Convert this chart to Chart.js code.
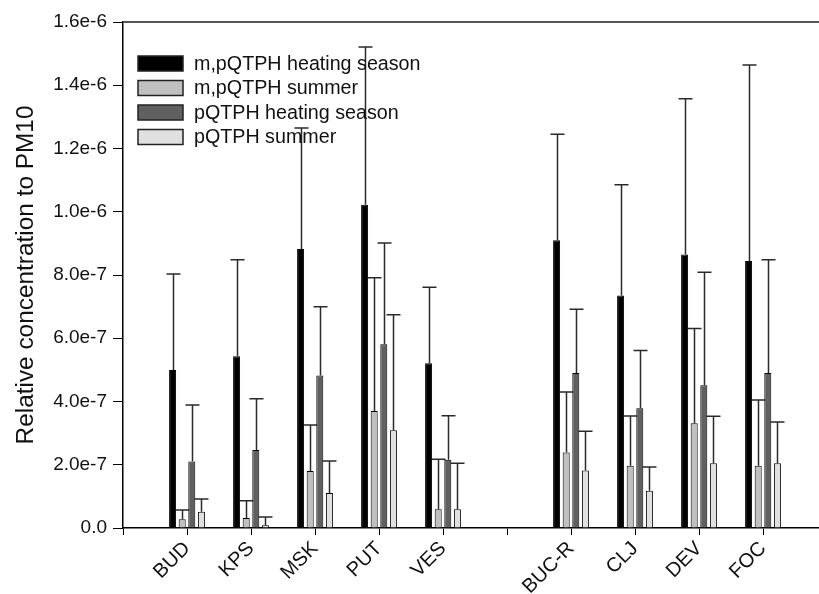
<!DOCTYPE html>
<html>
<head>
<meta charset="utf-8">
<script src="https://cdn.jsdelivr.net/npm/chart.js@4.4.1/dist/chart.umd.min.js"></script>
<style>
html,body{margin:0;padding:0;background:#fff;overflow:hidden;width:819px;height:594px}
#wrap{width:819px;height:594px;overflow:hidden;position:relative}
canvas{position:absolute;left:0;top:0}
</style>
</head>
<body>
<div id="wrap"><canvas id="c" width="860" height="594"></canvas></div>
<script>
// Categories (blank slots are the empty positions on the axis)
const labels = ['', 'BUD', 'KPS', 'MSK', 'PUT', 'VES', '', 'BUC-R', 'CLJ', 'DEV', 'FOC', ''];
const seriesNames = ['m,pQTPH heating season', 'm,pQTPH summer', 'pQTPH heating season', 'pQTPH summer'];
const seriesColors = ['#000000', '#c0c0c0', '#606060', '#e0e0e0'];

// Means
const mpHeat   = [null, 5.00e-7, 5.43e-7, 8.82e-7, 1.022e-6, 5.21e-7, null, 9.10e-7, 7.35e-7, 8.65e-7, 8.44e-7, null];
const mpSummer = [null, 2.8e-8, 3.2e-8, 1.80e-7, 3.70e-7, 5.9e-8, null, 2.39e-7, 1.97e-7, 3.31e-7, 1.97e-7, null];
const pHeat    = [null, 2.10e-7, 2.47e-7, 4.82e-7, 5.81e-7, 2.16e-7, null, 4.90e-7, 3.79e-7, 4.51e-7, 4.90e-7, null];
const pSummer  = [null, 5.1e-8, 8.5e-9, 1.11e-7, 3.09e-7, 5.9e-8, null, 1.82e-7, 1.18e-7, 2.05e-7, 2.05e-7, null];

// Upper ends of the error bars
const mpHeatHi   = [null, 8.03e-7, 8.48e-7, 1.265e-6, 1.521e-6, 7.61e-7, null, 1.245e-6, 1.085e-6, 1.357e-6, 1.464e-6, null];
const mpSummerHi = [null, 5.7e-8, 8.6e-8, 3.26e-7, 7.91e-7, 2.17e-7, null, 4.30e-7, 3.54e-7, 6.31e-7, 4.05e-7, null];
const pHeatHi    = [null, 3.89e-7, 4.09e-7, 7.00e-7, 9.01e-7, 3.55e-7, null, 6.92e-7, 5.61e-7, 8.09e-7, 8.48e-7, null];
const pSummerHi  = [null, 9.2e-8, 3.5e-8, 2.12e-7, 6.74e-7, 2.05e-7, null, 3.06e-7, 1.93e-7, 3.53e-7, 3.35e-7, null];

const yTickLabels = ['0.0', '2.0e-7', '4.0e-7', '6.0e-7', '8.0e-7', '1.0e-6', '1.2e-6', '1.4e-6', '1.6e-6'];
const yTitle = 'Relative concentration to PM10';

const means = [mpHeat, mpSummer, pHeat, pSummer];
const highs = [mpHeatHi, mpSummerHi, pHeatHi, pSummerHi];

const FONT = "'Liberation Sans', Arial, Helvetica, sans-serif";

const errorBars = {
  id: 'errorBars',
  beforeDatasetsDraw(chart) {
    const ctx = chart.ctx;
    const ys = chart.scales.y;
    ctx.save();
    ctx.strokeStyle = '#2a2a2a';
    ctx.lineWidth = 1.5;
    chart.data.datasets.forEach((ds, d) => {
      const meta = chart.getDatasetMeta(d);
      ds.errorHigh.forEach((hi, i) => {
        if (hi == null || ds.data[i] == null) return;
        const bar = meta.data[i];
        const yHi = ys.getPixelForValue(hi);
        const x = Math.round(bar.x) + 0.5;
        ctx.beginPath();
        ctx.moveTo(x, bar.y);
        ctx.lineTo(x, yHi);
        ctx.moveTo(x - 7, yHi);
        ctx.lineTo(x + 7, yHi);
        ctx.stroke();
      });
    });
    ctx.restore();
  }
};

const frameAndLegend = {
  id: 'frameAndLegend',
  afterDraw(chart) {
    const ctx = chart.ctx;
    const a = chart.chartArea;
    ctx.save();
    ctx.strokeStyle = '#555555';
    ctx.lineWidth = 2;
    ctx.beginPath();
    ctx.moveTo(a.left, a.top);
    ctx.lineTo(a.right, a.top);
    ctx.lineTo(a.right, a.bottom);
    ctx.stroke();
    // legend
    const bx = a.left + 15, by0 = a.top + 34, rowH = 24.5, bw = 45, bh = 15;
    ctx.font = '19.7px ' + FONT;
    ctx.textBaseline = 'middle';
    ctx.textAlign = 'left';
    chart.data.datasets.forEach((ds, d) => {
      const y = by0 + d * rowH;
      ctx.fillStyle = ds.backgroundColor;
      ctx.fillRect(bx, y, bw, bh);
      ctx.strokeStyle = '#222';
      ctx.lineWidth = 1.5;
      ctx.strokeRect(bx, y, bw, bh);
      ctx.fillStyle = '#111';
      ctx.fillText(ds.label, bx + bw + 11, y + bh / 2 + 1);
    });
    ctx.restore();
  }
};

new Chart(document.getElementById('c'), {
  type: 'bar',
  data: {
    labels: labels,
    datasets: means.map((m, d) => ({
      label: seriesNames[d],
      data: m,
      errorHigh: highs[d],
      backgroundColor: seriesColors[d],
      borderColor: '#000',
      borderWidth: 1,
      categoryPercentage: 0.6,
      barPercentage: 0.73
    }))
  },
  options: {
    responsive: false,
    animation: false,
    devicePixelRatio: 1,
    layout: { padding: { top: 22, right: 33, left: 0, bottom: 0 } },
    plugins: { legend: { display: false }, tooltip: { enabled: false } },
    scales: {
      x: {
        type: 'category',
        offset: false,
        afterFit: s => { s.height = 66; },
        border: { display: true, color: '#000', width: 1.5 },
        grid: { offset: false, drawOnChartArea: false, drawTicks: true, tickLength: 7, color: '#000', tickColor: '#000', lineWidth: 1 },
        ticks: {
          autoSkip: false, minRotation: 45, maxRotation: 45, padding: 2,
          color: '#111', font: { family: FONT, size: 20 }
        }
      },
      y: {
        min: 0, max: 1.6e-6,
        afterFit: s => { s.width = 123; },
        border: { display: true, color: '#000', width: 1.5 },
        grid: { drawOnChartArea: false, drawTicks: true, tickLength: 10, color: '#000', tickColor: '#000' },
        ticks: {
          stepSize: 2e-7, padding: 6, color: '#111',
          font: { family: FONT, size: 19 },
          callback: v => yTickLabels[Math.round(v / 2e-7)]
        },
        title: {
          display: true, text: yTitle, color: '#111',
          font: { family: FONT, size: 24.4 },
          padding: { top: 12, bottom: 0 }
        }
      }
    }
  },
  plugins: [errorBars, frameAndLegend]
});
</script>
</body>
</html>
